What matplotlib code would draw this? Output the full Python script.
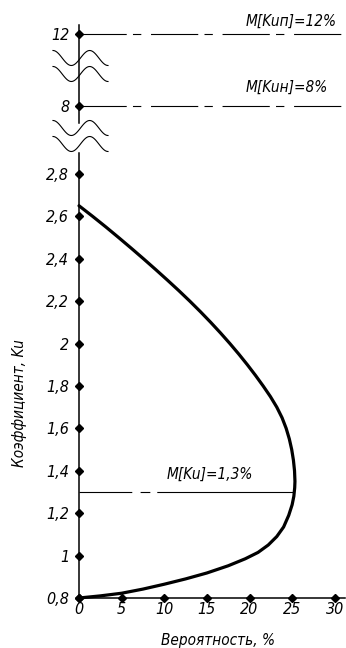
import matplotlib
matplotlib.use("Agg")
import matplotlib.pyplot as plt
import numpy as np

plt.rcParams['font.family'] = ['DejaVu Sans']
plt.rcParams['font.style'] = 'oblique'
plt.rcParams['font.stretch'] = 'condensed'
plt.rcParams['lines.scale_dashes'] = False

# curve: probability (%) vs coefficient Ku
prob = [0, 2.5, 5.0, 7.5, 10.0, 12.5, 15.0, 17.5, 19.5, 21.0, 22.2, 23.2, 24.0,
        24.6, 25.0, 25.2, 25.3, 25.33,
        25.28, 25.15, 24.95, 24.67, 24.3, 23.82, 23.2, 22.45, 21.6, 20.7,
        19.75, 18.75, 17.7, 16.6, 15.45, 14.25, 13.0, 11.7, 10.35, 8.97,
        7.56, 6.12, 4.65, 3.15, 1.6, 0]
ku = [0.80, 0.810, 0.8225, 0.842, 0.865, 0.890, 0.918, 0.952, 0.985, 1.015,
      1.05, 1.09, 1.135, 1.19, 1.24, 1.28, 1.32, 1.35,
      1.40, 1.45, 1.50, 1.55, 1.60, 1.65, 1.70, 1.75, 1.80, 1.85, 1.90,
      1.95, 2.00, 2.05, 2.10, 2.15, 2.20, 2.25, 2.30, 2.35, 2.40, 2.45,
      2.50, 2.55, 2.60, 2.65]

x_ticks = [0, 5, 10, 15, 20, 25, 30]
y_ticks = [0.8, 1.0, 1.2, 1.4, 1.6, 1.8, 2.0, 2.2, 2.4, 2.6, 2.8, 8, 12]
y_labels = ['0,8', '1', '1,2', '1,4', '1,6', '1,8', '2', '2,2', '2,4', '2,6',
            '2,8', '8', '12']

mean_ku = 1.3
mean_kun = 8
mean_kup = 12
mean_labels = ['M[Ku]=1,3%', 'M[Kuн]=8%', 'M[Kuп]=12%']

# broken y axis: compress the ranges 2.9..8 and 8..12
brk_real = [0, 2.9, 8, 12, 16]
brk_pos = [0, 2.9, 3.121, 3.460, 3.799]
fwd = lambda v: np.interp(v, brk_real, brk_pos)
inv = lambda v: np.interp(v, brk_pos, brk_real)

fig = plt.figure(figsize=(3.46, 6.48), dpi=100)
ax = fig.add_axes([79/346, 50/648, 266/346, 578/648])
ax.set_yscale('function', functions=(fwd, inv))
ax.set_xlim(0, 31.2)
ax.set_ylim(0.8, 12.78)
for s in ax.spines.values():
    s.set_visible(False)

ax.set_xticks(x_ticks)
ax.set_xticklabels([str(v) for v in x_ticks])
ax.set_yticks(y_ticks)
ax.set_yticklabels(y_labels)
ax.tick_params(length=0, labelsize=11.5)
ax.tick_params(axis='y', pad=7)
ax.tick_params(axis='x', pad=3)

# axes lines
ax.plot([0, 31.2], [0.8, 0.8], color='black', lw=1.1, clip_on=False)
ax.plot([0, 0], [0.8, 2.9], color='black', lw=1.1, clip_on=False)
ax.plot([0, 0], [6.14, 12.5], color='black', lw=1.1, clip_on=False)
ax.plot(x_ticks, [0.8] * len(x_ticks), 'D', color='black', ms=4.5, clip_on=False)
ax.plot([0] * len(y_ticks), y_ticks, 'D', color='black', ms=4.5, clip_on=False)

# break marks
t = np.linspace(0, 3 * np.pi, 60)
wx = (53 + (108 - 53) * t / (3 * np.pi) - 79) / 266
for cy in [58, 74, 128, 144]:
    wy = (598 - cy - 7.5 * (-np.cos(t))) / 578
    ax.plot(wx, wy, color='black', lw=0.8, transform=ax.transAxes, clip_on=False)

# mean lines
dd = (34, 4.5, 6, 7)
ax.plot([0, 31.2], [mean_kup, mean_kup], color='black', lw=0.8, dashes=dd, clip_on=False)
ax.plot([0, 31.2], [mean_kun, mean_kun], color='black', lw=0.8, dashes=dd, clip_on=False)
ax.plot([0, 25.25], [mean_ku, mean_ku], color='black', lw=0.8,
        dashes=(38, 6, 7, 5, 100, 5))

ax.annotate(mean_labels[2], (19.6, mean_kup), xytext=(0, 4), textcoords='offset points',
            fontsize=11, va='bottom', ha='left')
ax.annotate(mean_labels[1], (19.6, mean_kun), xytext=(0, 8), textcoords='offset points',
            fontsize=11, va='bottom', ha='left')
ax.annotate(mean_labels[0], (10.3, mean_ku), xytext=(0, 7), textcoords='offset points',
            fontsize=11, va='bottom', ha='left')

# distribution curve
ax.plot(prob, ku, color='black', lw=2.3, solid_capstyle='round', solid_joinstyle='round',
        clip_on=False)

fig.text(218/346, 1 - 640/648, 'Вероятность, %', fontsize=11, ha='center', va='center')
fig.text(20/346, 1 - 403/648, 'Коэффициент, Ku', fontsize=11, ha='center', va='center',
         rotation=90)

fig.savefig('out.png', dpi=100)
